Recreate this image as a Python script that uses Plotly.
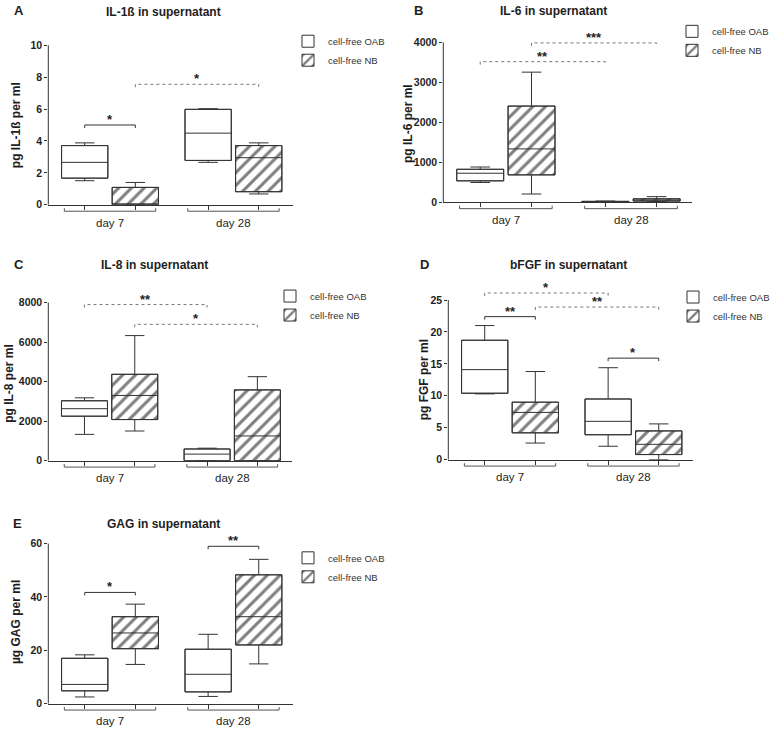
import plotly.graph_objects as go

W, H = 778, 737

# ---------------- data ----------------
groups = ["day 7", "day 28"]
series_names = ["cell-free OAB", "cell-free NB"]

# five-number summaries per day: [min, q1, median, q3, max]
il1b_oab = [[1.51, 1.67, 2.66, 3.71, 3.88], [2.66, 2.78, 4.49, 5.98, 6.02]]
il1b_nb = [[0.0, 0.0, 0.02, 1.09, 1.40], [0.68, 0.82, 2.95, 3.71, 3.88]]

il6_oab = [[495, 536, 726, 825, 882], [0, 5, 12, 22, 30]]
il6_nb = [[206, 685, 1336, 2408, 3258], [15, 30, 55, 85, 140]]

il8_oab = [[1330, 2250, 2630, 3030, 3180], [0, 0, 330, 590, 630]]
il8_nb = [[1500, 2080, 3300, 4370, 6330], [0, 0, 1250, 3580, 4250]]

fgf_oab = [[10.3, 10.4, 14.1, 18.7, 21.0], [2.1, 3.9, 6.0, 9.5, 14.4]]
fgf_nb = [[2.6, 4.2, 7.4, 9.0, 13.8], [0.0, 0.8, 2.4, 4.5, 5.6]]

gag_oab = [[2.5, 4.8, 7.2, 17.0, 18.3], [2.7, 4.4, 11.0, 20.4, 26.0]]
gag_nb = [[14.7, 20.6, 26.5, 32.6, 37.3], [14.9, 22.0, 32.6, 48.3, 54.1]]

# significance brackets: (from box, to box, height, stars, dashed)
# box index: 0 = OAB day 7, 1 = NB day 7, 2 = OAB day 28, 3 = NB day 28
sig_il1b = [(0, 1, 5.0, "*", False), (1, 3, 7.55, "*", True)]
sig_il6 = [(0, 2, 3520, "**", True), (1, 3, 3990, "***", True)]
sig_il8 = [(0, 2, 7900, "**", True), (1, 3, 6900, "*", True)]
sig_fgf = [(0, 2, 26.1, "*", True), (0, 1, 22.4, "**", False),
           (1, 3, 23.9, "**", True), (2, 3, 15.9, "*", False)]
sig_gag = [(0, 1, 41.7, "*", False), (2, 3, 59.0, "**", False)]

ticks_il1b = [0, 2, 4, 6, 8, 10]
ticks_il6 = [0, 1000, 2000, 3000, 4000]
ticks_il8 = [0, 2000, 4000, 6000, 8000]
ticks_fgf = [0, 5, 10, 15, 20, 25]
ticks_gag = [0, 20, 40, 60]

# ---------------- layout geometry (pixels) ----------------
panels = [
    dict(letter="A", title="IL-1ß in supernatant", ytitle="pg IL-1ß per ml",
         oab=il1b_oab, nb=il1b_nb, sig=sig_il1b, ticks=ticks_il1b, rtop=10.2,
         L=48.3, R=293.3, y0=204.3, ytop=42.7,
         tpos=(163, 9.5), lpos=(18.7, 8), ypos=(16.7, 124), leg=(328, 43)),
    dict(letter="B", title="IL-6 in supernatant", ytitle="pg IL-6 per ml",
         oab=il6_oab, nb=il6_nb, sig=sig_il6, ticks=ticks_il6, rtop=4300,
         L=443.3, R=691.7, y0=201.7, ytop=40,
         tpos=(553.5, 8), lpos=(418, 8), ypos=(407.5, 122), leg=(712, 33)),
    dict(letter="C", title="IL-8 in supernatant", ytitle="pg IL-8 per ml",
         oab=il8_oab, nb=il8_nb, sig=sig_il8, ticks=ticks_il8, rtop=8300,
         L=48.3, R=291.7, y0=463.3, ytop=303.3,
         tpos=(154.5, 265), lpos=(18.7, 265), ypos=(9.5, 385), leg=(310, 301)),
    dict(letter="D", title="bFGF in supernatant", ytitle="pg FGF per ml",
         oab=fgf_oab, nb=fgf_nb, sig=sig_fgf, ticks=ticks_fgf, rtop=27,
         L=448.3, R=693.3, y0=462.3, ytop=300.7,
         tpos=(568, 265), lpos=(424.7, 265), ypos=(424, 381), leg=(713, 302)),
    dict(letter="E", title="GAG in supernatant", ytitle="µg GAG per ml",
         oab=gag_oab, nb=gag_nb, sig=sig_gag, ticks=ticks_gag, rtop=61.5,
         L=48.3, R=293.3, y0=709.3, ytop=547.3,
         tpos=(163.7, 527), lpos=(17.5, 527), ypos=(16.7, 627), leg=(328, 566)),
]

FONT = "Liberation Sans, Arial, Helvetica, sans-serif"
AX = "#333333"
TXT = "#1e1e1e"
GC = [0.0, 1.0]           # group centres
OFF = 0.205               # box offset from group centre
BW = 0.375                # box width
XR = [-0.5, 1.485]
pos = [GC[0] - OFF, GC[0] + OFF, GC[1] - OFF, GC[1] + OFF]


def px(x):
    return x / W


def py(y):
    return 1 - y / H


fig = go.Figure()
layout = dict(width=W, height=H, autosize=False,
              margin=dict(l=0, r=0, t=0, b=0),
              plot_bgcolor="white", paper_bgcolor="white",
              barmode="overlay", boxmode="overlay", showlegend=True,
              font=dict(family=FONT, color=TXT))
shapes = []
annotations = []

for i, p in enumerate(panels):
    n = i + 1
    sfx = "" if n == 1 else str(n)
    xa, ya = "x" + sfx, "y" + sfx
    leg = "legend" + sfx
    top = p["ticks"][-1]
    dom_h = p["rtop"] / top * (p["y0"] - p["ytop"])
    ytop_dom = p["y0"] - dom_h
    upp = p["rtop"] / dom_h  # data units per pixel

    layout["xaxis" + sfx] = dict(
        domain=[px(p["L"]), px(p["R"])], range=XR, anchor=ya,
        showgrid=False, zeroline=False, showline=True, linecolor=AX, linewidth=1,
        tickmode="array", tickvals=pos, showticklabels=False,
        ticks="outside", ticklen=4, tickcolor=AX, tickwidth=1, fixedrange=True)
    layout["yaxis" + sfx] = dict(
        domain=[py(p["y0"]), py(ytop_dom)], range=[0, p["rtop"]], anchor=xa,
        showgrid=False, zeroline=False, showline=False,
        tickmode="array", tickvals=p["ticks"], ticktext=[str(t) for t in p["ticks"]],
        ticks="outside", ticklen=3, tickcolor=AX, tickwidth=1,
        tickfont=dict(size=10.5, color=TXT, family=FONT, weight="bold"),
        fixedrange=True)
    layout[leg] = dict(x=px(p["leg"][0] - 40), y=py(p["leg"][1] - 19),
                       xanchor="left", yanchor="top",
                       bgcolor="rgba(0,0,0,0)", borderwidth=0,
                       font=dict(size=9.5, color="#333", family=FONT),
                       itemclick=False, itemdoubleclick=False, tracegroupgap=0)

    for s, (name, data) in enumerate([(series_names[0], p["oab"]), (series_names[1], p["nb"])]):
        xs = [pos[s], pos[2 + s]]
        mins = [d[0] for d in data]
        q1 = [d[1] for d in data]
        med = [d[2] for d in data]
        q3 = [d[3] for d in data]
        mx = [d[4] for d in data]
        marker = dict(color="white", line=dict(color=AX, width=1))
        if s == 1:
            marker["pattern"] = dict(shape="/", fgcolor="#000000", bgcolor="white",
                                     size=9, solidity=0.33)
        fig.add_trace(go.Bar(x=xs, y=[b - a for a, b in zip(q1, q3)], base=q1,
                             width=BW, marker=marker, name=name, legend=leg,
                             showlegend=True, xaxis=xa, yaxis=ya, hoverinfo="skip"))
        fig.add_trace(go.Box(x=xs, q1=q1, median=med, q3=q3,
                             lowerfence=mins, upperfence=mx,
                             width=BW, whiskerwidth=0.42, boxpoints=False,
                             fillcolor="rgba(0,0,0,0)",
                             line=dict(color=AX, width=1),
                             showlegend=False, xaxis=xa, yaxis=ya, hoverinfo="skip"))

    # y axis line from 0 to top tick
    shapes.append(dict(type="line", xref=xa + " domain", yref=ya, x0=0, x1=0,
                       y0=0, y1=top, line=dict(color=AX, width=1)))

    # group brackets below x axis
    for g, gname in enumerate(groups):
        x0, x1 = GC[g] - 0.37, GC[g] + 0.37
        yl = py(p["y0"] + 6.5)
        ye = py(p["y0"] + 3.5)
        shapes.append(dict(type="path", xref=xa, yref="paper",
                           path=f"M{x0},{ye} L{x0},{yl} L{x1},{yl} L{x1},{ye}",
                           line=dict(color="#555", width=1)))
        annotations.append(dict(x=GC[g], xref=xa, y=py(p["y0"] + 18), yref="paper",
                                text=gname, showarrow=False, xanchor="center",
                                yanchor="middle", font=dict(size=11.5, color=TXT)))

    # significance brackets
    for (a, b, yv, stars, dashed) in p["sig"]:
        x0, x1 = pos[a], pos[b]
        d = 3 * upp
        shapes.append(dict(type="path", xref=xa, yref=ya,
                           path=f"M{x0},{yv - d} L{x0},{yv} L{x1},{yv} L{x1},{yv - d}",
                           line=dict(color="#777" if dashed else "#333", width=1,
                                     dash="dot" if dashed else "solid")))
        annotations.append(dict(x=(x0 + x1) / 2, xref=xa, y=yv, yref=ya,
                                text=stars, showarrow=False, xanchor="center",
                                yanchor="bottom", yshift=-4,
                                font=dict(size=13, color=TXT, weight="bold")))

    # panel letter, title, y-axis title
    annotations.append(dict(x=px(p["lpos"][0]), y=py(p["lpos"][1]), xref="paper", yref="paper",
                            text=p["letter"], showarrow=False, xanchor="center", yanchor="middle",
                            font=dict(size=13, color=TXT, weight="bold")))
    annotations.append(dict(x=px(p["tpos"][0]), y=py(p["tpos"][1]), xref="paper", yref="paper",
                            text=p["title"], showarrow=False, xanchor="center", yanchor="middle",
                            font=dict(size=12, color=TXT, weight="bold")))
    annotations.append(dict(x=px(p["ypos"][0]), y=py(p["ypos"][1]), xref="paper", yref="paper",
                            text=p["ytitle"], showarrow=False, textangle=-90,
                            xanchor="center", yanchor="middle",
                            font=dict(size=12, color=TXT, weight="bold")))

layout["shapes"] = shapes
layout["annotations"] = annotations
fig.update_layout(**layout)
# the page body has a default 8 px margin; remove it so the figure fills the window
fig.write_html("out.html",
               config={"displayModeBar": False, "staticPlot": True},
               post_script="document.body.style.margin='0px';document.body.style.overflow='hidden';")
